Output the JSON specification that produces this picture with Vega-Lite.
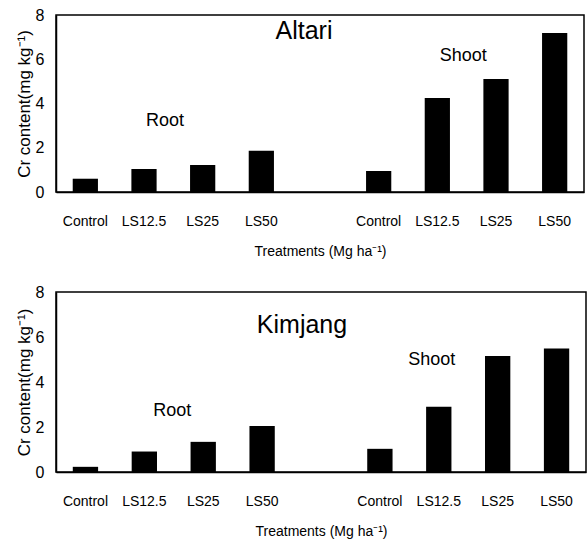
{
  "$schema": "https://vega.github.io/schema/vega-lite/v6.json",
  "padding": {"left": 14, "top": 6, "right": 2, "bottom": 4},
  "background": "white",
  "spacing": 24,
  "datasets": {
    "cr": [
      {"cultivar": "Altari", "slot": "Root Control", "value": 0.6},
      {"cultivar": "Altari", "slot": "Root LS12.5", "value": 1.04},
      {"cultivar": "Altari", "slot": "Root LS25", "value": 1.22},
      {"cultivar": "Altari", "slot": "Root LS50", "value": 1.86},
      {"cultivar": "Altari", "slot": "Shoot Control", "value": 0.95},
      {"cultivar": "Altari", "slot": "Shoot LS12.5", "value": 4.25},
      {"cultivar": "Altari", "slot": "Shoot LS25", "value": 5.11},
      {"cultivar": "Altari", "slot": "Shoot LS50", "value": 7.19},
      {"cultivar": "Kimjang", "slot": "Root Control", "value": 0.23},
      {"cultivar": "Kimjang", "slot": "Root LS12.5", "value": 0.91},
      {"cultivar": "Kimjang", "slot": "Root LS25", "value": 1.34},
      {"cultivar": "Kimjang", "slot": "Root LS50", "value": 2.05},
      {"cultivar": "Kimjang", "slot": "Shoot Control", "value": 1.03},
      {"cultivar": "Kimjang", "slot": "Shoot LS12.5", "value": 2.9},
      {"cultivar": "Kimjang", "slot": "Shoot LS25", "value": 5.16},
      {"cultivar": "Kimjang", "slot": "Shoot LS50", "value": 5.49}
    ],
    "one": [{}]
  },
  "config": {
    "view": {"stroke": "black", "strokeWidth": 1.5},
    "axis": {
      "grid": false,
      "ticks": false,
      "domainColor": "black",
      "domainWidth": 1.5,
      "labelColor": "black",
      "titleColor": "black",
      "titleFontWeight": "normal"
    },
    "axisX": {
      "labelFont": "Liberation Sans Narrow, Arial Narrow, Liberation Sans",
      "labelFontSize": 14,
      "labelPadding": 22,
      "labelAngle": 0,
      "titleFont": "Liberation Sans Narrow, Arial Narrow, Liberation Sans",
      "titleFontSize": 14,
      "titlePadding": 16
    },
    "axisY": {
      "labelFont": "Liberation Sans",
      "labelFontSize": 16,
      "labelPadding": 12,
      "titleFont": "Liberation Sans",
      "titleFontSize": 17,
      "titlePadding": 2
    },
    "text": {"font": "Liberation Sans Narrow, Arial Narrow, Liberation Sans", "color": "black"}
  },
  "vconcat": [
    {
      "width": 528,
      "height": 177,
      "layer": [
        {
          "data": {"name": "cr"},
          "transform": [{"filter": "datum.cultivar === 'Altari'"}],
          "mark": {"type": "bar", "color": "black"},
          "encoding": {
            "x": {
              "field": "slot", "type": "nominal",
              "scale": {
                "domain": ["Root Control", "Root LS12.5", "Root LS25", "Root LS50", "gap", "Shoot Control", "Shoot LS12.5", "Shoot LS25", "Shoot LS50"],
                "paddingInner": 0.57, "paddingOuter": 0.285
              },
              "axis": {"title": "Treatments (Mg ha⁻¹)", "labelExpr": "indexof(datum.value, ' ') > 0 ? split(datum.value, ' ')[1] : ''"}
            },
            "y": {
              "field": "value", "type": "quantitative",
              "scale": {"domain": [0, 8], "nice": false},
              "axis": {"title": "Cr content(mg kg⁻¹)", "values": [0, 2, 4, 6, 8]}
            }
          }
        },
        {
          "data": {"name": "one"},
          "mark": {"type": "text", "fontSize": 25, "dx": -16},
          "encoding": {"x": {"datum": "gap"}, "y": {"datum": 7.28}, "text": {"value": "Altari"}}
        },
        {
          "data": {"name": "one"},
          "mark": {"type": "text", "fontSize": 18, "dx": 21},
          "encoding": {"x": {"datum": "Root LS12.5"}, "y": {"datum": 3.2}, "text": {"value": "Root"}}
        },
        {
          "data": {"name": "one"},
          "mark": {"type": "text", "fontSize": 18, "dx": 26},
          "encoding": {"x": {"datum": "Shoot LS12.5"}, "y": {"datum": 6.15}, "text": {"value": "Shoot"}}
        }
      ]
    },
    {
      "width": 530,
      "height": 180,
      "layer": [
        {
          "data": {"name": "cr"},
          "transform": [{"filter": "datum.cultivar === 'Kimjang'"}],
          "mark": {"type": "bar", "color": "black"},
          "encoding": {
            "x": {
              "field": "slot", "type": "nominal",
              "scale": {
                "domain": ["Root Control", "Root LS12.5", "Root LS25", "Root LS50", "gap", "Shoot Control", "Shoot LS12.5", "Shoot LS25", "Shoot LS50"],
                "paddingInner": 0.57, "paddingOuter": 0.285
              },
              "axis": {"title": "Treatments (Mg ha⁻¹)", "labelExpr": "indexof(datum.value, ' ') > 0 ? split(datum.value, ' ')[1] : ''"}
            },
            "y": {
              "field": "value", "type": "quantitative",
              "scale": {"domain": [0, 8], "nice": false},
              "axis": {"title": "Cr content(mg kg⁻¹)", "values": [0, 2, 4, 6, 8]}
            }
          }
        },
        {
          "data": {"name": "one"},
          "mark": {"type": "text", "fontSize": 25, "dx": -19},
          "encoding": {"x": {"datum": "gap"}, "y": {"datum": 6.55}, "text": {"value": "Kimjang"}}
        },
        {
          "data": {"name": "one"},
          "mark": {"type": "text", "fontSize": 18, "dx": 28},
          "encoding": {"x": {"datum": "Root LS12.5"}, "y": {"datum": 2.7}, "text": {"value": "Root"}}
        },
        {
          "data": {"name": "one"},
          "mark": {"type": "text", "fontSize": 18, "dx": -7},
          "encoding": {"x": {"datum": "Shoot LS12.5"}, "y": {"datum": 5.0}, "text": {"value": "Shoot"}}
        }
      ]
    }
  ]
}
